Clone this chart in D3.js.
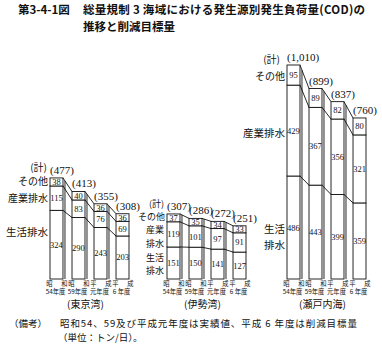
<!DOCTYPE html>
<html>
<head>
<meta charset="utf-8">
<script src="https://cdn.jsdelivr.net/npm/d3@7"></script>
<style>
  body { margin: 0; background: #fff; }
  text { font-family: "Liberation Serif", "Noto Sans CJK JP", serif; fill: #111; }
  .jp { font-family: "Noto Sans CJK JP", sans-serif; }
</style>
</head>
<body>
<div id="chart"></div>
<script>
// data: one entry per sea area, four years each
const regions = ["東京湾", "伊勢湾", "瀬戸内海"];
const yearTop = [["昭", "和"], ["昭", "和"], ["平", "成"], ["平", "成"]];
const yearBottom = ["54年度", "59年度", "元年度", "6 年度"];
const seriesNames = ["生活排水", "産業排水", "その他"];

const domestic = [[324, 290, 243, 203], [151, 150, 141, 127], [486, 443, 399, 359]];
const industry = [[115, 83, 76, 69], [119, 101, 97, 91], [429, 367, 356, 321]];
const other = [[38, 40, 36, 36], [37, 35, 34, 33], [95, 89, 82, 80]];
const totals = [[477, 413, 355, 308], [307, 286, 272, 251], [1010, 899, 837, 760]];
const totalLabels = [["(477)", "(413)", "(355)", "(308)"], ["(307)", "(286)", "(272)", "(251)"], ["(1,010)", "(899)", "(837)", "(760)"]];

const W = 382, H = 353;
const svg = d3.select("#chart").append("svg")
    .attr("width", W)
    .attr("height", H);

const groupLeft = [50, 167, 287];
const groupWidth = 79;

const y = d3.scaleLinear()
    .domain([0, d3.max(totals.flat())])
    .range([279, 65]);

// title
svg.append("text").attr("class", "jp").attr("x", 18).attr("y", 14)
    .attr("font-size", 11.5).attr("font-weight", 700).text("第3-4-1図");
svg.append("text").attr("class", "jp").attr("x", 83).attr("y", 14)
    .attr("font-size", 11.5).attr("font-weight", 700).attr("textLength", 282)
    .text("総量規制 3 海域における発生源別発生負荷量(COD)の");
svg.append("text").attr("class", "jp").attr("x", 83).attr("y", 31)
    .attr("font-size", 11.5).attr("font-weight", 700).text("推移と削減目標量");

regions.forEach((region, r) => {
    const x = d3.scaleBand()
        .domain(d3.range(4))
        .range([groupLeft[r], groupLeft[r] + groupWidth])
        .paddingInner(0.41)
        .paddingOuter(0);
    const bw = x.bandwidth();

    const stacks = d3.range(4).map(i => {
        const a = domestic[r][i], b = a + industry[r][i], c = b + other[r][i];
        return [[0, a, domestic[r][i]], [a, b, industry[r][i]], [b, c, other[r][i]]];
    });

    const g = svg.append("g");

    // connecting diagonals and side lines between bars
    for (let i = 0; i < 3; i++) {
        const x1 = x(i) + bw, x2 = x(i + 1);
        const levels = [stacks[i][0][1], stacks[i][1][1], stacks[i][2][1]];
        const next = [stacks[i + 1][0][1], stacks[i + 1][1][1], stacks[i + 1][2][1]];
        levels.forEach((v, k) => {
            g.append("line")
                .attr("x1", x1).attr("y1", y(v))
                .attr("x2", x2).attr("y2", y(next[k]))
                .attr("stroke", "#111").attr("stroke-width", 0.9);
        });
        const xs = x1 + 2;
        const t = (xs - x1) / (x2 - x1);
        const yTop = y(levels[2]) + t * (y(next[2]) - y(levels[2]));
        g.append("line")
            .attr("x1", xs).attr("y1", yTop)
            .attr("x2", xs).attr("y2", y(0))
            .attr("stroke", "#111").attr("stroke-width", 0.9);
    }

    // stacked segments
    stacks.forEach((segs, i) => {
        segs.forEach(s => {
            g.append("rect")
                .attr("x", x(i)).attr("y", y(s[1]))
                .attr("width", bw).attr("height", y(s[0]) - y(s[1]))
                .attr("fill", "#fff").attr("stroke", "#111").attr("stroke-width", 0.9);
            g.append("text")
                .attr("x", x(i) + bw / 2).attr("y", (y(s[0]) + y(s[1])) / 2)
                .attr("text-anchor", "middle").attr("dominant-baseline", "central")
                .attr("font-size", 8.5)
                .text(s[2]);
        });
        g.append("text")
            .attr("x", x(i)).attr("y", y(totals[r][i]) - 4)
            .attr("font-size", 11)
            .text(totalLabels[r][i]);

        // year labels
        const cx = x(i) + bw / 2;
        g.append("text").attr("class", "jp").attr("x", cx - 7).attr("y", 283)
            .attr("text-anchor", "middle").attr("dominant-baseline", "central")
            .attr("font-size", 6.3).text(yearTop[i][0]);
        g.append("text").attr("class", "jp").attr("x", cx + 8).attr("y", 283)
            .attr("text-anchor", "middle").attr("dominant-baseline", "central")
            .attr("font-size", 6.3).text(yearTop[i][1]);
        g.append("text").attr("class", "jp").attr("x", cx - 1).attr("y", 291)
            .attr("text-anchor", "middle").attr("dominant-baseline", "central")
            .attr("font-size", 6.3).text(yearBottom[i]);
    });

    g.append("text").attr("class", "jp")
        .attr("x", groupLeft[r] + groupWidth / 2 - 4).attr("y", 303)
        .attr("text-anchor", "middle").attr("dominant-baseline", "central")
        .attr("font-size", 10).text("(" + region + ")");
});

// series labels to the left of each group
function leftLabel(lines, xr, yc, size) {
    const step = size * 1.45;
    const txt = svg.append("text").attr("class", "jp")
        .attr("text-anchor", "end").attr("dominant-baseline", "central")
        .attr("font-size", size);
    lines.forEach((t, k) => {
        txt.append("tspan")
            .attr("x", xr).attr("y", yc + (k - (lines.length - 1) / 2) * step)
            .text(t);
    });
}
leftLabel(["(計)"], 47, 166, 10);
leftLabel([seriesNames[2]], 48, 180, 10);
leftLabel([seriesNames[1]], 48, 197, 10);
leftLabel([seriesNames[0]], 48, 231, 10.5);

leftLabel(["(計)"], 164, 203, 9);
leftLabel([seriesNames[2]], 165, 216, 9);
leftLabel(["産業", "排水"], 164, 236, 9);
leftLabel(["生活", "排水"], 164, 263.5, 9);

leftLabel(["(計)"], 280, 58, 10);
leftLabel([seriesNames[2]], 285, 75, 10);
leftLabel([seriesNames[1]], 285, 132, 10.5);
leftLabel(["生活", "排水"], 285, 236, 10.5);

// note
svg.append("text").attr("class", "jp").attr("x", 9).attr("y", 323)
    .attr("dominant-baseline", "central").attr("font-size", 9.5).text("（備考）");
const note = svg.append("text").attr("class", "jp")
    .attr("dominant-baseline", "central").attr("font-size", 9.5);
note.append("tspan").attr("x", 60).attr("y", 323).attr("textLength", 297)
    .text("昭和54、59及び平成元年度は実績値、平成 6 年度は削減目標量");
note.append("tspan").attr("x", 58).attr("y", 337)
    .text("（単位：トン/日）。");
</script>
</body>
</html>
